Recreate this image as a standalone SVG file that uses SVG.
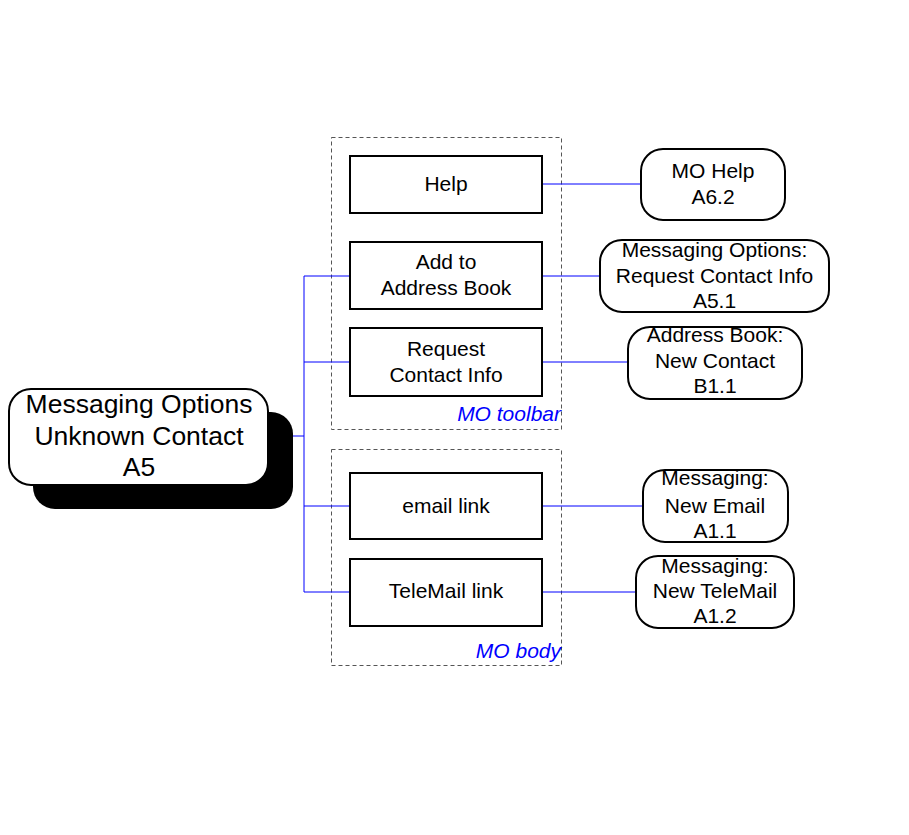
<svg xmlns="http://www.w3.org/2000/svg" width="909" height="835" viewBox="0 0 909 835">
<style>
text{font-family:"Liberation Sans",Arial,sans-serif;fill:#000;text-anchor:middle}
.box{fill:#fff;stroke:#000;stroke-width:2}
.t{font-size:21px}
.grp{fill:none;stroke:#555;stroke-width:1;stroke-dasharray:4,3}
.lbl{font-size:21px;font-style:italic;fill:#0000ff;text-anchor:end}
.c{fill:none;stroke:#0000ff;stroke-width:1}
</style>
<rect width="909" height="835" fill="#fff"/>
<g id="group-toolbar"><rect class="grp" x="331.5" y="137.5" width="230" height="292"/><text class="lbl" x="561" y="421">MO toolbar</text></g>
<g id="group-body"><rect class="grp" x="331.5" y="449.5" width="230" height="216"/><text class="lbl" x="561" y="658">MO body</text></g>
<g id="connectors">
<path class="c" d="M268 436H304M304 276V592M304 276H350M304 362H350M304 506H350M304 592H350"/>
<path class="c" d="M542 184H641M542 276H600M542 362H628M542 506H643M542 592H636"/>
</g>
<g id="main">
<rect x="33" y="412" width="260" height="97" rx="22" fill="#000"/>
<rect class="box" x="9" y="389" width="259" height="96" rx="22"/>
<text x="139" y="413" font-size="26.5">Messaging Options</text>
<text x="139" y="445" font-size="26.5">Unknown Contact</text>
<text x="139" y="476" font-size="26.5">A5</text>
</g>
<g id="help"><rect class="box" x="350" y="156" width="192" height="57"/><text class="t" x="446" y="191">Help</text></g>
<g id="addbook"><rect class="box" x="350" y="242" width="192" height="67"/><text class="t" x="446" y="269">Add to</text><text class="t" x="446" y="295">Address Book</text></g>
<g id="reqinfo"><rect class="box" x="350" y="328" width="192" height="68"/><text class="t" x="446" y="356">Request</text><text class="t" x="446" y="382">Contact Info</text></g>
<g id="email"><rect class="box" x="350" y="473" width="192" height="66"/><text class="t" x="446" y="513">email link</text></g>
<g id="telemail"><rect class="box" x="350" y="559" width="192" height="67"/><text class="t" x="446" y="598">TeleMail link</text></g>
<g id="mohelp"><rect class="box" x="641" y="149" width="144" height="71" rx="22"/><text class="t" x="713" y="178">MO Help</text><text class="t" x="713" y="204">A6.2</text></g>
<g id="moreq"><rect class="box" x="600" y="240" width="229" height="72" rx="22"/><text class="t" x="714.5" y="257">Messaging Options:</text><text class="t" x="714.5" y="283">Request Contact Info</text><text class="t" x="714.5" y="308">A5.1</text></g>
<g id="abnew"><rect class="box" x="628" y="327" width="174" height="72" rx="22"/><text class="t" x="715" y="342">Address Book:</text><text class="t" x="715" y="368">New Contact</text><text class="t" x="715" y="393">B1.1</text></g>
<g id="newemail"><rect class="box" x="643" y="470" width="145" height="72" rx="22"/><text class="t" x="715" y="485">Messaging:</text><text class="t" x="715" y="513">New Email</text><text class="t" x="715" y="538">A1.1</text></g>
<g id="newtele"><rect class="box" x="636" y="556" width="158" height="72" rx="22"/><text class="t" x="715" y="573">Messaging:</text><text class="t" x="715" y="598">New TeleMail</text><text class="t" x="715" y="623">A1.2</text></g>
</svg>
